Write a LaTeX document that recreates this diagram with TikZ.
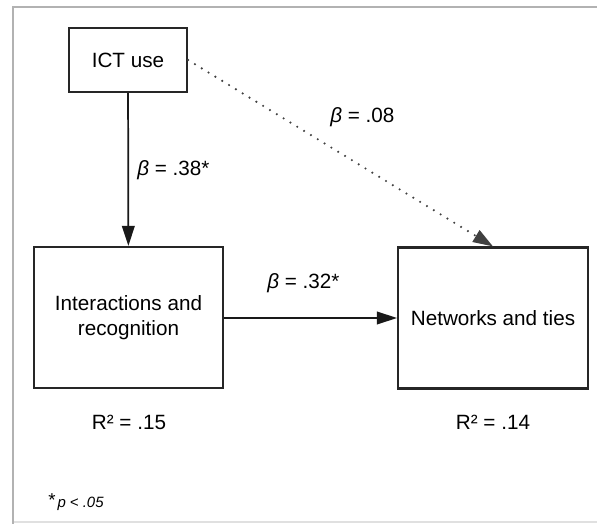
\documentclass[tikz,border=0pt]{standalone}
\usepackage{fontspec}
\setmainfont{Liberation Sans}
\usetikzlibrary{arrows.meta}
\begin{document}
\begin{tikzpicture}[x=0.75pt,y=-0.75pt,
  box/.style={draw=black!85, line width=1.6pt, rectangle, inner sep=0pt, align=center,
    font=\fontsize{15.5}{18.8}\selectfont},
  lbl/.style={inner sep=0pt, font=\fontsize{15.5}{18.8}\selectfont},
  conn/.style={line width=1.3pt, draw=black!90, -{Triangle[length=15pt,width=9.5pt]}},
  dotconn/.style={line width=1.8pt, draw=black!75, line cap=round, dash pattern=on 0pt off 6pt,
    -{Triangle[length=15pt,width=10pt]}}]
\useasboundingbox (0,0) rectangle (597,524);
\fill[white] (0,0) rectangle (597,524);
% frame
\draw[black!12, line width=1pt] (13,522) -- (597,522);
\draw[black!30, line width=1.4pt] (597,7) -- (13,7) -- (13,524);
% nodes
\node[box, minimum width=88.5pt, minimum height=48pt] (ict) at (128,60) {ICT use};
\node[box, minimum width=141.75pt, minimum height=105.75pt] (inter) at (128.5,317.5) {Interactions and\\recognition};
\node[box, minimum width=142.5pt, minimum height=105.75pt] (net) at (493,318) {Networks and ties};
% connectors
\draw[conn] (ict) -- (inter);
\draw[conn] (inter.east |- 0,318) -- (net.west |- 0,318);
\draw[dotconn] (ict.east) -- (net.north);
% labels
\node[lbl, anchor=west] (b1) at (137,170) {{\itshape β} = .38*};
\node[lbl, anchor=west] (b2) at (330,117) {{\itshape β} = .08};
\node[lbl, anchor=west] (b3) at (267,283) {{\itshape β} = .32*};
\node[lbl] (r1) at (129,422) {R² = .15};
\node[lbl] (r2) at (493,422) {R² = .14};
\node[inner sep=0pt, anchor=west] (fn) at (48,502) {\raisebox{1pt}{\fontsize{14}{16}\selectfont *}\hspace{1.5pt}{\fontsize{11.2}{13}\selectfont\itshape p < .05}};
\end{tikzpicture}
\end{document}
